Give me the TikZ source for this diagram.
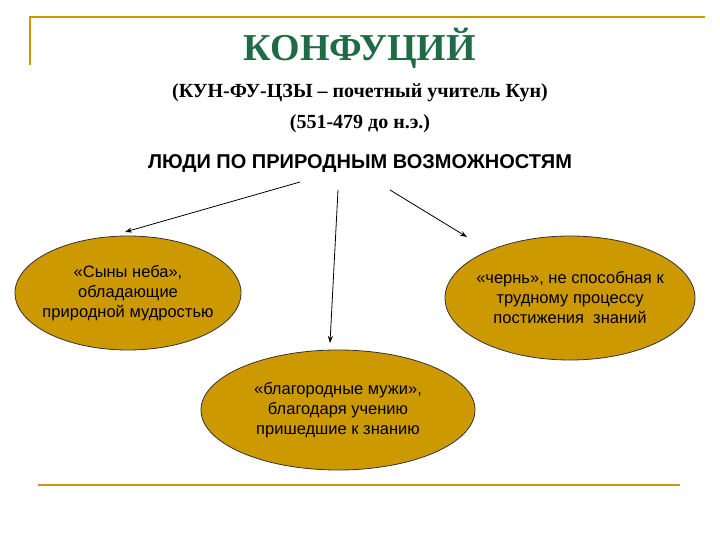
\documentclass[tikz,border=0pt]{standalone}
\usepackage{fontspec}
\setmainfont{Liberation Serif}
\newfontfamily\sansf{Liberation Sans}
\usetikzlibrary{shapes.geometric,arrows.meta}
\definecolor{gold}{HTML}{CC9900}
\definecolor{dgreen}{HTML}{1F6B45}
\tikzset{
  oval/.style={ellipse, draw=black!80, line width=0.8pt, fill=gold, inner xsep=-30pt, inner ysep=-10pt, align=center, font=\sansf\fontsize{16.5}{20}\selectfont},
  arr/.style={-{Stealth[length=7pt,width=5pt]}, line width=0.8pt},
  rule/.style={gold, line width=1.5pt}
}
\begin{document}
\begin{tikzpicture}[x=1pt,y=-1pt]
\useasboundingbox (0,0) rectangle (720,540);
\coordinate (t1) at (30,65); \coordinate (t2) at (30,17); \coordinate (t3) at (705,17);
\draw[rule] (t1) -- (t2) -- (t3);
\coordinate (b1) at (38,485); \coordinate (b2) at (680,485);
\draw[rule] (b1) -- (b2);
\node[text=dgreen, font=\bfseries\fontsize{38}{42}\selectfont] (title) at (360,48) {КОНФУЦИЙ};
\node[font=\bfseries\fontsize{20}{24}\selectfont] (sub1) at (360,93) {(КУН-ФУ-ЦЗЫ – почетный учитель Кун)};
\node[font=\bfseries\fontsize{20}{24}\selectfont] (sub2) at (360,124) {(551-479 до н.э.)};
\node[font=\sansf\bfseries\fontsize{20}{24}\selectfont] (head) at (360,164) {ЛЮДИ ПО ПРИРОДНЫМ ВОЗМОЖНОСТЯМ};
\node[oval, minimum width=226pt, minimum height=114pt] (l) at (128,293) {«Сыны неба»,\\обладающие\\природной мудростью};
\node[oval, minimum width=250pt, minimum height=124pt] (r) at (570,298) {«чернь», не способная к\\трудному процессу\\постижения \ знаний};
\node[oval, minimum width=274pt, minimum height=120pt] (m) at (338,410) {«благородные мужи»,\\благодаря учению\\пришедшие к знанию};
\coordinate (a1) at (300,182); \coordinate (a2) at (338,190); \coordinate (a3) at (390,190);
\coordinate (e1) at (125,232); \coordinate (e2) at (330,343); \coordinate (e3) at (467,237);
\draw[arr] (a1) -- (e1);
\draw[arr] (a2) -- (e2);
\draw[arr] (a3) -- (e3);
\end{tikzpicture}
\end{document}
